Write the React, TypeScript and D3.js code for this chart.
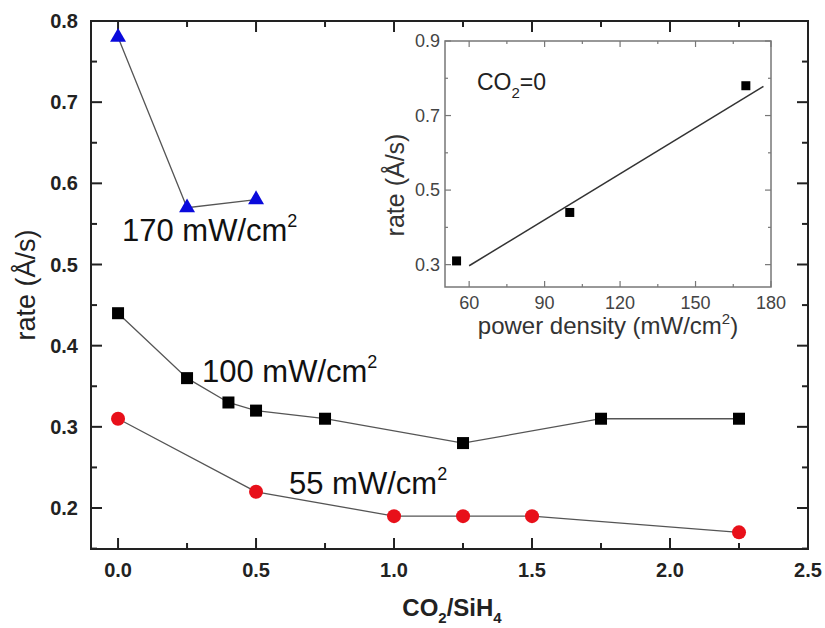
import React from 'react';
import * as d3 from 'd3';

// main plot data: rate vs CO2/SiH4
const x170 = [0, 0.25, 0.5];
const y170 = [0.78, 0.57, 0.58];
const x100 = [0, 0.25, 0.4, 0.5, 0.75, 1.25, 1.75, 2.25];
const y100 = [0.44, 0.36, 0.33, 0.32, 0.31, 0.28, 0.31, 0.31];
const x55 = [0, 0.5, 1.0, 1.25, 1.5, 2.25];
const y55 = [0.31, 0.22, 0.19, 0.19, 0.19, 0.17];

const xTicks = [0, 0.5, 1.0, 1.5, 2.0, 2.5];
const yTicks = [0.2, 0.3, 0.4, 0.5, 0.6, 0.7, 0.8];

// inset: rate vs power density at CO2=0
const insetPower = [55, 100, 170];
const insetRate = [0.31, 0.44, 0.78];
const fitX = [60, 177];
const fitY = [0.297, 0.778];
const insetXTicks = [60, 90, 120, 150, 180];
const insetYTicks = [0.3, 0.5, 0.7, 0.9];

const W = 825, H = 628;
const M = { l: 91, t: 21, r: 808, b: 549 };
const I = { l: 445, t: 41, r: 771, b: 287 };

export default function App() {
  const x = d3.scaleLinear().domain([-0.098, 2.5]).range([M.l, M.r]);
  const y = d3.scaleLinear().domain([0.1495, 0.8]).range([M.b, M.t]);
  const ix = d3.scaleLinear().domain([50.4, 180]).range([I.l, I.r]);
  const iy = d3.scaleLinear().domain([0.24, 0.9]).range([I.b, I.t]);

  const line = d3.line<[number, number]>().x(d => x(d[0])).y(d => y(d[1]));
  const zip = (a: number[], b: number[]) => a.map((v, i) => [v, b[i]] as [number, number]);

  const xMinor = d3.range(0.25, 2.5, 0.5);
  const yMinor = d3.range(0.15, 0.8, 0.1);
  const ixMinor = d3.range(75, 180, 30);
  const iyMinor = [0.4, 0.6, 0.8];

  const tri = d3.symbol(d3.symbolTriangle, 110)();
  const sans = 'Arial, "Liberation Sans", sans-serif';

  return (
    <svg width={W} height={H} style={{ position: 'absolute', left: 0, top: 0 }} fontFamily={sans}>
      <rect width={W} height={H} fill="#fff" />

      {/* main frame and ticks */}
      <rect x={M.l} y={M.t} width={M.r - M.l} height={M.b - M.t} fill="none" stroke="#222" strokeWidth={2} />
      {xTicks.map(t => (
        <g key={'xt' + t}>
          <line x1={x(t)} x2={x(t)} y1={M.b} y2={M.b - 11} stroke="#222" strokeWidth={2} />
          <line x1={x(t)} x2={x(t)} y1={M.t} y2={M.t + 11} stroke="#222" strokeWidth={2} />
          <text x={x(t)} y={577} textAnchor="middle" fontSize={20} fontWeight="bold" fill="#222">{t.toFixed(1)}</text>
        </g>
      ))}
      {xMinor.map(t => (
        <g key={'xm' + t}>
          <line x1={x(t)} x2={x(t)} y1={M.b} y2={M.b - 6} stroke="#222" strokeWidth={2} />
          <line x1={x(t)} x2={x(t)} y1={M.t} y2={M.t + 6} stroke="#222" strokeWidth={2} />
        </g>
      ))}
      {yTicks.map(t => (
        <g key={'yt' + t}>
          <line x1={M.l} x2={M.l + 11} y1={y(t)} y2={y(t)} stroke="#222" strokeWidth={2} />
          <line x1={M.r} x2={M.r - 11} y1={y(t)} y2={y(t)} stroke="#222" strokeWidth={2} />
          <text x={78} y={y(t) + 7} textAnchor="end" fontSize={20} fontWeight="bold" fill="#222">{t.toFixed(1)}</text>
        </g>
      ))}
      {yMinor.map(t => (
        <g key={'ym' + t}>
          <line x1={M.l} x2={M.l + 6} y1={y(t)} y2={y(t)} stroke="#222" strokeWidth={2} />
          <line x1={M.r} x2={M.r - 6} y1={y(t)} y2={y(t)} stroke="#222" strokeWidth={2} />
        </g>
      ))}

      {/* axis titles */}
      <text transform={`translate(35,${(M.t + M.b) / 2}) rotate(-90)`} textAnchor="middle" fontSize={27} fill="#222">rate (Å/s)</text>
      <text x={452} y={616} textAnchor="middle" fontSize={24} fontWeight="bold" fill="#222">
        CO<tspan fontSize={15} dy={7}>2</tspan><tspan dy={-7}>/SiH</tspan><tspan fontSize={15} dy={7}>4</tspan>
      </text>

      {/* series */}
      <path d={line(zip(x170, y170)) || ''} fill="none" stroke="#555" strokeWidth={1.3} />
      <path d={line(zip(x100, y100)) || ''} fill="none" stroke="#555" strokeWidth={1.3} />
      <path d={line(zip(x55, y55)) || ''} fill="none" stroke="#555" strokeWidth={1.3} />
      {x170.map((v, i) => (
        <path key={'t' + i} d={tri || ''} transform={`translate(${x(v)},${y(y170[i])})`} fill="#0a0adc" />
      ))}
      {x100.map((v, i) => (
        <rect key={'s' + i} x={x(v) - 6} y={y(y100[i]) - 6} width={12} height={12} fill="#000" />
      ))}
      {x55.map((v, i) => (
        <circle key={'c' + i} cx={x(v)} cy={y(y55[i])} r={7} fill="#e8101a" />
      ))}

      {/* annotations */}
      <text x={122} y={241} fontSize={31} fill="#111">170 mW/cm<tspan fontSize={18} dy={-14}>2</tspan></text>
      <text x={202} y={382} fontSize={31} fill="#111">100 mW/cm<tspan fontSize={18} dy={-14}>2</tspan></text>
      <text x={289} y={494} fontSize={31} fill="#111">55 mW/cm<tspan fontSize={18} dy={-14}>2</tspan></text>

      {/* inset */}
      <rect x={I.l} y={I.t} width={I.r - I.l} height={I.b - I.t} fill="#fff" stroke="#777" strokeWidth={1.5} />
      {insetXTicks.map(t => (
        <g key={'ixt' + t}>
          <line x1={ix(t)} x2={ix(t)} y1={I.b} y2={I.b - 6} stroke="#777" strokeWidth={1.2} />
          <line x1={ix(t)} x2={ix(t)} y1={I.t} y2={I.t + 6} stroke="#777" strokeWidth={1.2} />
          <text x={ix(t)} y={309} textAnchor="middle" fontSize={18} fill="#444">{t}</text>
        </g>
      ))}
      {ixMinor.map(t => (
        <g key={'ixm' + t}>
          <line x1={ix(t)} x2={ix(t)} y1={I.b} y2={I.b - 3} stroke="#777" strokeWidth={1.2} />
          <line x1={ix(t)} x2={ix(t)} y1={I.t} y2={I.t + 3} stroke="#777" strokeWidth={1.2} />
        </g>
      ))}
      {insetYTicks.map(t => (
        <g key={'iyt' + t}>
          <line x1={I.l} x2={I.l + 6} y1={iy(t)} y2={iy(t)} stroke="#777" strokeWidth={1.2} />
          <line x1={I.r} x2={I.r - 6} y1={iy(t)} y2={iy(t)} stroke="#777" strokeWidth={1.2} />
          <text x={440} y={iy(t) + 6} textAnchor="end" fontSize={18} fill="#444">{t.toFixed(1)}</text>
        </g>
      ))}
      {iyMinor.map(t => (
        <g key={'iym' + t}>
          <line x1={I.l} x2={I.l + 3} y1={iy(t)} y2={iy(t)} stroke="#777" strokeWidth={1.2} />
          <line x1={I.r} x2={I.r - 3} y1={iy(t)} y2={iy(t)} stroke="#777" strokeWidth={1.2} />
        </g>
      ))}
      <line x1={ix(fitX[0])} y1={iy(fitY[0])} x2={ix(fitX[1])} y2={iy(fitY[1])} stroke="#333" strokeWidth={1.5} />
      {insetPower.map((v, i) => (
        <rect key={'is' + i} x={ix(v) - 4.5} y={iy(insetRate[i]) - 4.5} width={9} height={9} fill="#000" />
      ))}
      <text x={477} y={90} fontSize={23} fill="#222">CO<tspan fontSize={15} dy={8}>2</tspan><tspan dy={-8}>=0</tspan></text>
      <text transform={`translate(404,185) rotate(-90)`} textAnchor="middle" fontSize={25} fill="#333">rate (Å/s)</text>
      <text x={608} y={334} textAnchor="middle" fontSize={24} fill="#333">power density (mW/cm<tspan fontSize={15} dy={-10}>2</tspan><tspan dy={10}>)</tspan></text>
    </svg>
  );
}
